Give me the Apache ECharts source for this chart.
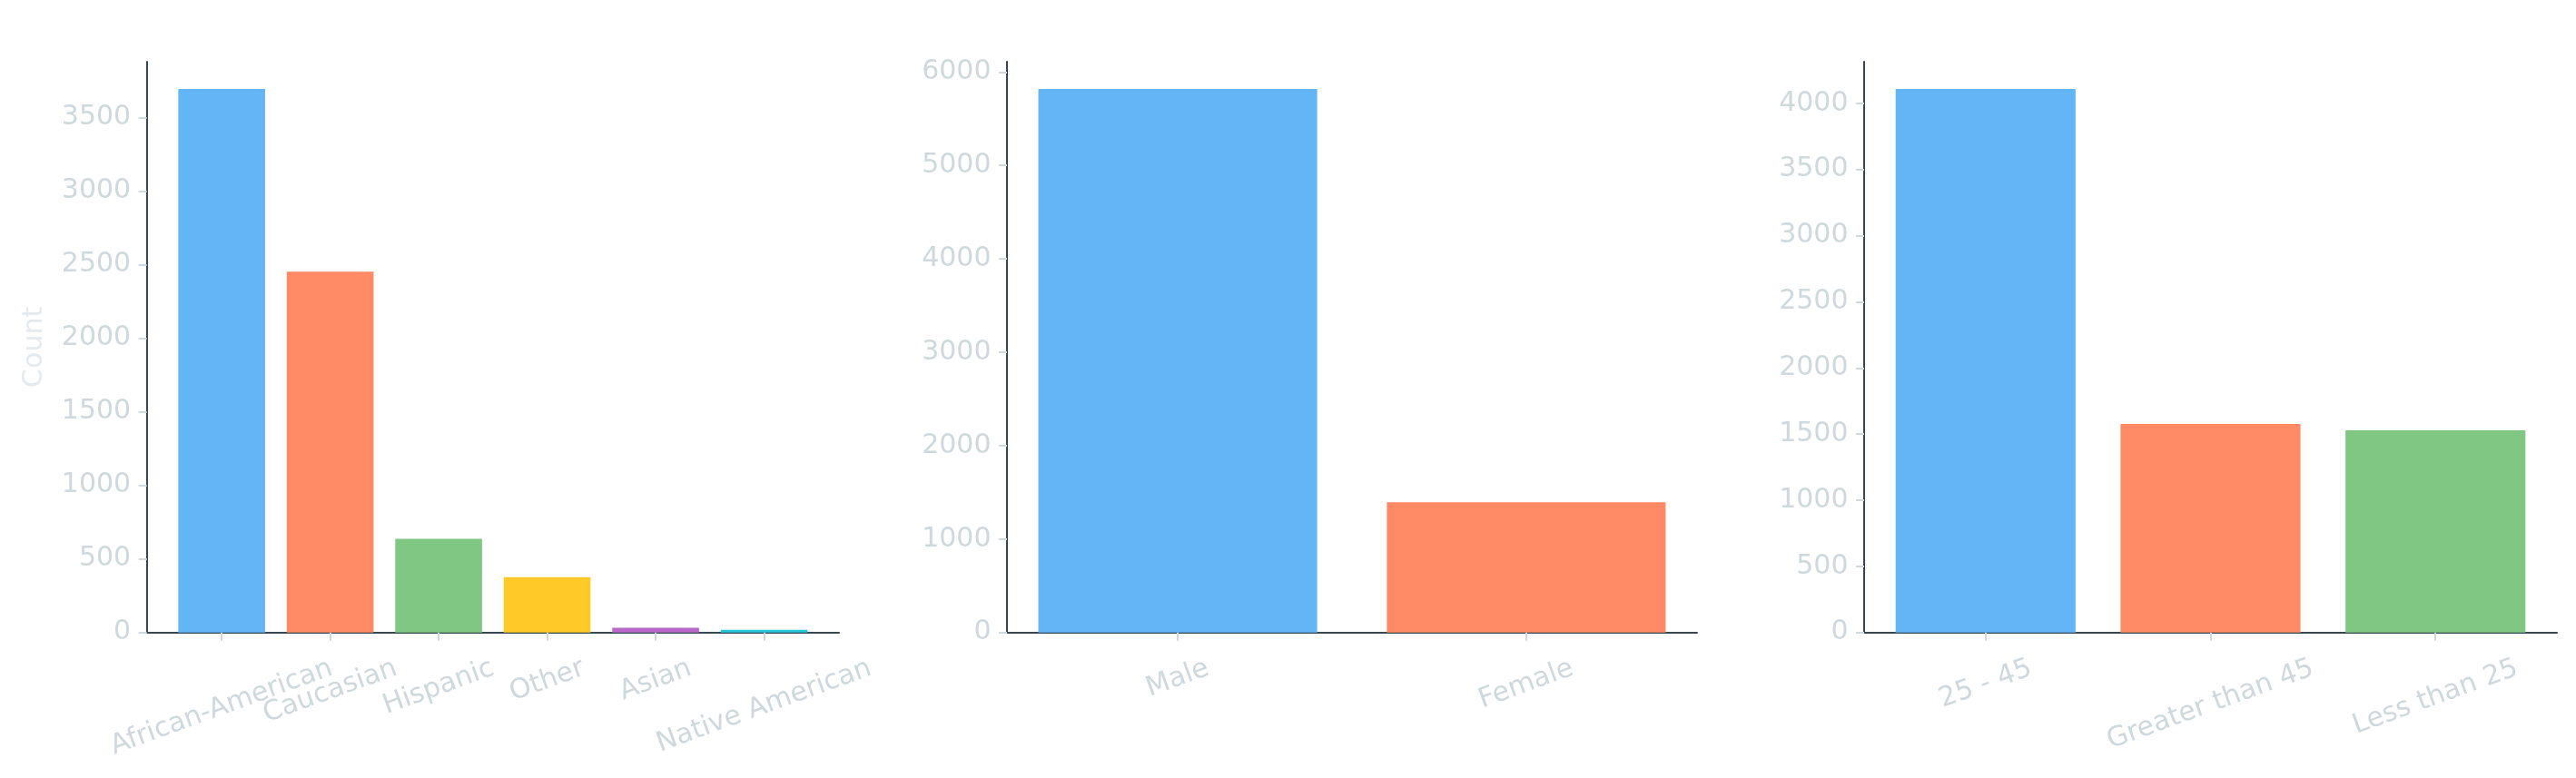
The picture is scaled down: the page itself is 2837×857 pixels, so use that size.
<!DOCTYPE html>
<html>
<head>
<meta charset="utf-8">
<title>Counts by race, sex and age</title>
<script src="https://cdn.jsdelivr.net/npm/echarts@6.0.0/dist/echarts.min.js"></script>
<style>
    html, body { margin: 0; padding: 0; background: #ffffff; }
    #main { width: 2837px; height: 857px; }
</style>
</head>
<body>
<div id="main"></div>
<script>
// data
var raceNames = ['African-American', 'Caucasian', 'Hispanic', 'Other', 'Asian', 'Native American'];
var raceCounts = [3696, 2454, 637, 377, 32, 18];
var raceTicks = [0, 500, 1000, 1500, 2000, 2500, 3000, 3500];

var sexNames = ['Male', 'Female'];
var sexCounts = [5819, 1395];
var sexTicks = [0, 1000, 2000, 3000, 4000, 5000, 6000];

var ageNames = ['25 - 45', 'Greater than 45', 'Less than 25'];
var ageCounts = [4109, 1576, 1529];
var ageTicks = [0, 500, 1000, 1500, 2000, 2500, 3000, 3500, 4000];

var palette = ['#64b5f6', '#ff8a65', '#81c784', '#ffca28', '#ba68c8', '#26c6da'];

var FONT = 'DejaVu Sans';
var FS = 30;
var LABEL = '#cfd8dc';
var SPINE = '#37474f';
var ROT = 20 * Math.PI / 180;
var S = Math.sin(ROT), C = Math.cos(ROT);
var PAD = 24.5; // tick + gap below the axis line

// panel frames (pixels)
var panels = [
    {names: raceNames, counts: raceCounts, ticks: raceTicks, left: 161.7, width: 762.3},
    {names: sexNames, counts: sexCounts, ticks: sexTicks, left: 1109, width: 760},
    {names: ageNames, counts: ageCounts, ticks: ageTicks, left: 2053, width: 763}
];
var TOP = 68, BOTTOM = 160.3;

var grids = [], xAxes = [], yAxes = [], series = [];

panels.forEach(function (p, k) {
    var n = p.names.length;
    var xmin = -0.4 - 0.05 * (n - 0.2);
    var xmax = n - 0.6 + 0.05 * (n - 0.2);
    var idx = p.names.map(function (d, i) { return i; });
    var ymax = Math.max.apply(null, p.counts) * 1.05;

    grids.push({left: p.left, width: p.width, top: TOP, bottom: BOTTOM, containLabel: false, outerBoundsMode: 'none'});

    xAxes.push({
        type: 'value', gridIndex: k, min: xmin, max: xmax,
        axisLine: {show: true, onZero: false, lineStyle: {color: SPINE, width: 2}},
        axisTick: {show: true, length: 9, customValues: idx, lineStyle: {color: LABEL, width: 2}},
        splitLine: {show: false},
        axisLabel: {show: false}
    });

    yAxes.push({
        type: 'value', gridIndex: k, min: 0, max: ymax,
        name: k === 0 ? 'Count' : '',
        nameLocation: 'middle', nameGap: 108, nameMoveOverlap: false,
        nameTextStyle: {color: '#e4eaed', fontSize: FS, fontFamily: FONT},
        axisLine: {show: true, onZero: false, lineStyle: {color: SPINE, width: 2}},
        axisTick: {show: true, length: 9, customValues: p.ticks, lineStyle: {color: LABEL, width: 2}},
        splitLine: {show: false},
        axisLabel: {
            customValues: p.ticks, margin: 17.5, padding: [8, 0, 0, 0],
            showMinLabel: true, showMaxLabel: true,
            color: LABEL, fontSize: FS, fontFamily: FONT,
            formatter: function (v) { return String(v); }
        }
    });

    series.push({
        type: 'bar', xAxisIndex: k, yAxisIndex: k,
        barWidth: 0.8 * p.width / (xmax - xmin),
        data: p.counts.map(function (v, i) {
            return {value: [i, v], itemStyle: {color: palette[i]}};
        })
    });
});

var chart = echarts.init(document.getElementById('main'));
chart.setOption({
    backgroundColor: '#ffffff',
    animation: false,
    grid: grids,
    xAxis: xAxes,
    yAxis: yAxes,
    series: series
});

// category labels: rotated 20deg, box centred under each tick (like matplotlib)
var ctx = document.createElement('canvas').getContext('2d');
ctx.font = FS + 'px "' + FONT + '"';
var labels = [];
panels.forEach(function (p, k) {
    p.names.forEach(function (t, i) {
        var pt = chart.convertToPixel({gridIndex: k}, [i, 0]);
        var L = ctx.measureText(t).width;
        var boxH = L * S + FS * C;
        labels.push({
            type: 'text', silent: true,
            x: pt[0], y: pt[1] + PAD + boxH / 2,
            rotation: ROT,
            style: {
                text: t, fill: LABEL, fontSize: FS, fontFamily: FONT,
                align: 'center', verticalAlign: 'middle'
            }
        });
    });
});
chart.setOption({graphic: labels});
</script>
</body>
</html>
